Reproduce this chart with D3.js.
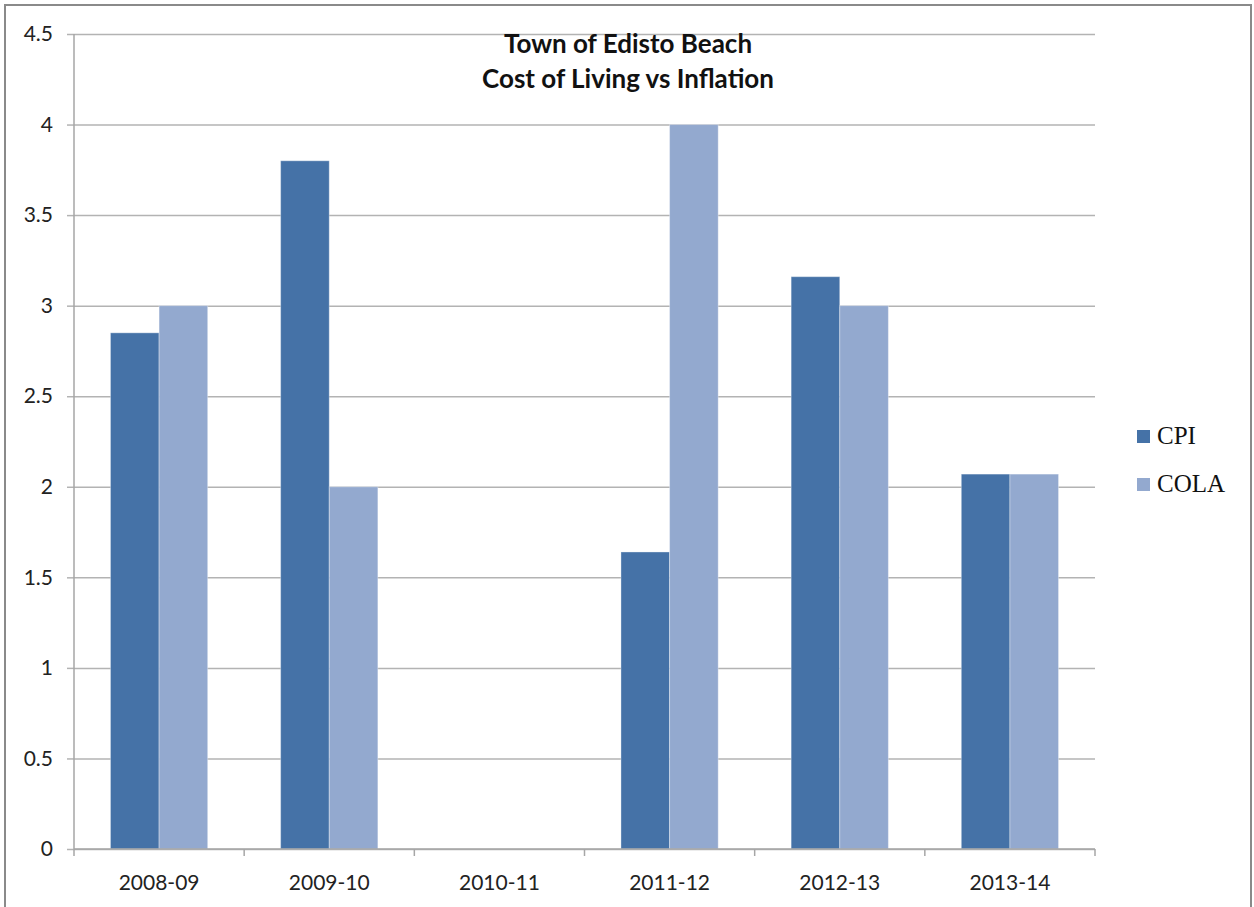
<!DOCTYPE html>
<html lang="en">

<head>
    <meta charset="UTF-8">
    <script src="https://d3js.org/d3.v7.min.js"></script>
    <title>Town of Edisto Beach - Cost of Living vs Inflation</title>

    <style>
        body {
            margin: 0;
            background: #fff;
        }

        .axis text {
            font-family: Lato, "Open Sans", sans-serif;
            font-size: 21px;
            fill: #222;
        }

        .legend text {
            font-family: "Liberation Serif", "DejaVu Serif", serif;
            font-size: 25px;
            fill: #111;
        }

        .title {
            font-family: Lato, "Open Sans", sans-serif;
            font-weight: bold;
            font-size: 26px;
            fill: #111;
        }
    </style>
</head>

<body>
    <script>
        // data
        const categories = ['2008-09', '2009-10', '2010-11', '2011-12', '2012-13', '2013-14'];
        const seriesNames = ['CPI', 'COLA'];
        const cpi = [2.85, 3.8, null, 1.64, 3.16, 2.07];
        const cola = [3, 2, null, 4, 3, 2.07];
        const yTicks = [0, 0.5, 1, 1.5, 2, 2.5, 3, 3.5, 4, 4.5];
        const colors = ['#4572a7', '#93a9cf'];
        const titleLines = ['Town of Edisto Beach', 'Cost of Living vs Inflation'];

        const W = 1254, H = 907;
        const margin = { top: 34, left: 74, right: 159, bottom: 58 };
        const width = W - margin.left - margin.right;
        const height = H - margin.top - margin.bottom;

        const svg = d3.select('body').append('svg')
            .attr('width', W)
            .attr('height', H);

        // outer chart border
        svg.append('rect')
            .attr('x', 5).attr('y', 5)
            .attr('width', 1246).attr('height', 920)
            .attr('fill', 'none')
            .attr('stroke', '#8a8a8a')
            .attr('stroke-width', 2);

        const g = svg.append('g')
            .attr('transform', `translate(${margin.left},${margin.top})`);

        // scales
        const x0 = d3.scaleBand().domain(categories).range([0, width]).padding(0);
        const x1 = d3.scaleBand().domain(seriesNames).range([0, x0.bandwidth()])
            .paddingInner(0).paddingOuter(0.75);
        const y = d3.scaleLinear().domain([0, 4.5]).range([height, 0]);

        // gridlines
        g.append('g')
            .attr('class', 'grid')
            .call(d3.axisLeft(y).tickValues(yTicks).tickSize(-width).tickFormat(''))
            .call((s) => s.select('.domain').remove())
            .selectAll('line')
            .attr('stroke', '#b3b3b3')
            .attr('stroke-width', 1.5);

        // y axis
        const g_yaxis = g.append('g')
            .attr('class', 'y axis')
            .call(d3.axisLeft(y).tickValues(yTicks).tickSize(7).tickPadding(14).tickFormat(d3.format('')));
        g_yaxis.select('.domain').remove();
        g_yaxis.selectAll('line').attr('stroke', '#b3b3b3').attr('stroke-width', 1.5);
        g_yaxis.append('line')
            .attr('x1', 0).attr('x2', 0)
            .attr('y1', 0).attr('y2', height)
            .attr('stroke', '#a6a6a6')
            .attr('stroke-width', 1.5);

        // bars
        const rows = categories.map((c, i) => ({ category: c, values: [cpi[i], cola[i]] }));
        const group = g.selectAll('.cat').data(rows).join('g')
            .attr('class', 'cat')
            .attr('transform', (d) => `translate(${x0(d.category)},0)`);

        group.selectAll('rect')
            .data((d) => d.values.map((v, j) => ({ name: seriesNames[j], value: v, idx: j })).filter((d) => d.value !== null))
            .join('rect')
            .attr('x', (d) => x1(d.name))
            .attr('width', x1.bandwidth())
            .attr('y', (d) => y(d.value))
            .attr('height', (d) => height - y(d.value))
            .attr('fill', (d) => colors[d.idx])
            .attr('stroke', 'rgba(255,255,255,0.35)')
            .attr('stroke-width', 1);

        // x axis
        const g_xaxis = g.append('g')
            .attr('class', 'x axis')
            .attr('transform', `translate(0,${height})`)
            .call(d3.axisBottom(x0).tickSize(0).tickPadding(26));
        g_xaxis.select('.domain').remove();
        g_xaxis.append('line')
            .attr('x1', 0).attr('x2', width)
            .attr('stroke', '#a6a6a6')
            .attr('stroke-width', 1.5);
        g_xaxis.selectAll('.sep')
            .data(categories.concat(['end']))
            .join('line')
            .attr('class', 'sep')
            .attr('x1', (d) => d === 'end' ? width : x0(d))
            .attr('x2', (d) => d === 'end' ? width : x0(d))
            .attr('y1', 0).attr('y2', 7)
            .attr('stroke', '#a6a6a6')
            .attr('stroke-width', 1.5);

        // title
        svg.append('text')
            .attr('class', 'title')
            .attr('text-anchor', 'middle')
            .selectAll('tspan')
            .data(titleLines)
            .join('tspan')
            .attr('x', 628)
            .attr('y', (d, i) => 53 + i * 35)
            .text((d) => d);

        // legend
        const legend = svg.append('g')
            .attr('class', 'legend')
            .attr('transform', 'translate(1137,430)');
        const li = legend.selectAll('g').data(seriesNames).join('g')
            .attr('transform', (d, i) => `translate(0,${i * 48})`);
        li.append('rect')
            .attr('width', 13).attr('height', 13)
            .attr('fill', (d, i) => colors[i]);
        li.append('text')
            .attr('x', 20)
            .attr('y', 14)
            .text((d) => d);
    </script>
</body>

</html>
